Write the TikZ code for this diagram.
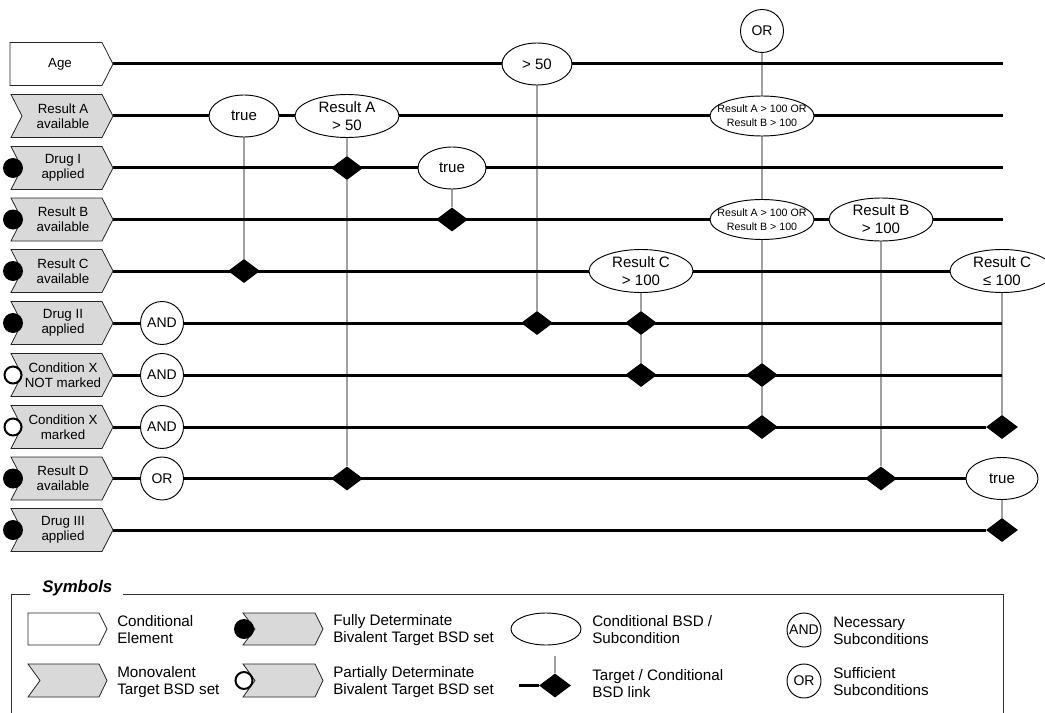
\documentclass[tikz,border=0pt]{standalone}
\usepackage{fontspec}
\setmainfont{Liberation Sans}
\usetikzlibrary{shapes.geometric}
\pgfdeclarelayer{bg}\pgfdeclarelayer{mid}\pgfsetlayers{bg,mid,main}
\definecolor{boxgray}{HTML}{D9D9D9}
\definecolor{linkgray}{HTML}{A0A0A0}
\tikzset{
 rowline/.style={line width=2.25pt},
 linkline/.style={draw=linkgray, line width=1.5pt},
 boxline/.style={draw=black!85, line width=0.6pt},
 boxtext/.style={font=\fontsize{10}{11.25}\selectfont, align=center, inner sep=0pt},
 cond/.style={ellipse, draw, fill=white, inner sep=0pt, line width=0.7pt},
 etext/.style={font=\fontsize{11.3}{13.5}\selectfont, align=center, inner sep=0pt},
 esmall/.style={font=\fontsize{8}{10.5}\selectfont, align=center, inner sep=0pt},
 gate/.style={circle, draw, fill=white, inner sep=0pt, minimum size=32.25pt, line width=0.7pt, font=\fontsize{10.5}{12}\selectfont},
 lgate/.style={circle, draw, fill=white, inner sep=0pt, minimum size=25.5pt, line width=0.7pt, font=\fontsize{10.5}{12}\selectfont},
 link/.style={diamond, fill=black, inner sep=0pt, minimum width=24pt, minimum height=18pt},
 fulldot/.style={circle, fill=black, inner sep=0pt, minimum size=15pt},
 opendot/.style={circle, draw, line width=1.5pt, fill=white, inner sep=0pt, minimum size=12.75pt},
 ltext/.style={font=\fontsize{11.4}{12.75}\selectfont, align=left, inner sep=0pt, anchor=west},
 frameline/.style={draw=black!80, line width=0.75pt},
}
\newcommand\mkwbox[3]{%
 \filldraw[boxline, fill=white] (10,#2-21.5) -- (102,#2-21.5) -- (113,#2) -- (102,#2+21.5) -- (10,#2+21.5) -- cycle;
 \node[boxtext] (#1) at (60,#2) {#3};
 \coordinate (#1tip) at (113,#2);}
\newcommand\mkgbox[3]{%
 \filldraw[boxline, fill=boxgray] (11,#2-21.5) -- (102,#2-21.5) -- (113,#2) -- (102,#2+21.5) -- (11,#2+21.5) -- (22,#2) -- cycle;
 \node[boxtext] (#1) at (63,#2) {#3};
 \coordinate (#1tip) at (113,#2);}
\begin{document}
\begin{tikzpicture}[x=0.75pt,y=-0.75pt]
\useasboundingbox (0,0) rectangle (1045,713);

% ---- row elements ----
\mkwbox{Age}{64}{Age}
\mkgbox{RA}{116}{Result A\\available}
\mkgbox{DI}{168}{Drug I\\applied}
\mkgbox{RB}{219.5}{Result B\\available}
\mkgbox{RC}{271}{Result C\\available}
\mkgbox{DII}{323}{Drug II\\applied}
\mkgbox{CXN}{375}{Condition X\\NOT marked}
\mkgbox{CXM}{427}{Condition X\\marked}
\mkgbox{RD}{478.5}{Result D\\available}
\mkgbox{DIII}{530}{Drug III\\applied}

\node[fulldot] (DIdot) at (13,168) {};
\node[fulldot] (RBdot) at (13,219.5) {};
\node[fulldot] (RCdot) at (13,271) {};
\node[fulldot] (DIIdot) at (13,323) {};
\node[opendot] (CXNdot) at (13,375) {};
\node[opendot] (CXMdot) at (13,427) {};
\node[fulldot] (RDdot) at (13,478.5) {};
\node[fulldot] (DIIIdot) at (13,530) {};

% ---- gates ----
\node[gate] (gDII) at (162,323) {AND};
\node[gate] (gCXN) at (162,375) {AND};
\node[gate] (gCXM) at (162,427) {AND};
\node[gate] (gRD) at (162,478.5) {OR};
\node[gate] (gTop) at (762,31) {OR};

% ---- conditional ellipses ----
\node[cond, minimum width=52.5pt, minimum height=31.5pt, label={[etext]center:true}] (eT1) at (244,116) {};
\node[cond, minimum width=78pt, minimum height=32.25pt, label={[etext]center:{Result A\\> 50}}] (eRA50) at (347,116) {};
\node[cond, minimum width=51pt, minimum height=31.5pt, label={[etext]center:true}] (eT2) at (452,168) {};
\node[cond, minimum width=52.5pt, minimum height=31.5pt, label={[etext]center:{> 50}}] (e50) at (537,64) {};
\node[cond, minimum width=78pt, minimum height=30pt, label={[esmall]center:{Result A > 100 OR\\Result B > 100}}] (eAB1) at (762,116) {};
\node[cond, minimum width=78pt, minimum height=30pt, label={[esmall]center:{Result A > 100 OR\\Result B > 100}}] (eAB2) at (762,219.5) {};
\node[cond, minimum width=78pt, minimum height=32.25pt, label={[etext]center:{Result C\\> 100}}] (eRC100) at (641,271) {};
\node[cond, minimum width=78pt, minimum height=32.25pt, label={[etext]center:{Result B\\> 100}}] (eRB100) at (881,219.5) {};
\node[cond, minimum width=78pt, minimum height=32.25pt, label={[etext]center:{Result C\\≤ 100}}] (eRCle) at (1002,271) {};
\node[cond, minimum width=54pt, minimum height=31.5pt, label={[etext]center:true}] (eTD) at (1002,478.5) {};

% ---- links ----
\node[link] (dRC1) at (244,271) {};
\node[link] (dDI1) at (347,168) {};
\node[link] (dRD1) at (347,478.5) {};
\node[link] (dRB1) at (452,219.5) {};
\node[link] (dDII1) at (537,323) {};
\node[link] (dDII2) at (641,323) {};
\node[link] (dCXN1) at (641,375) {};
\node[link] (dCXN2) at (762,375) {};
\node[link] (dCXM1) at (762,427) {};
\node[link] (dRD2) at (881,478.5) {};
\node[link] (dCXM2) at (1002,427) {};
\node[link] (dDIII) at (1002,530) {};

\coordinate (AgeEnd) at (1003,64);
\coordinate (RAEnd) at (1003,116);
\coordinate (DIEnd) at (1003,168);
\coordinate (RBEnd) at (1003,219.5);
\coordinate (DIIEnd) at (1002,323);
\coordinate (CXNEnd) at (1002,375);

\begin{pgfonlayer}{mid}
\draw[rowline] (Agetip) -- (AgeEnd);
\draw[rowline] (RAtip) -- (RAEnd);
\draw[rowline] (DItip) -- (DIEnd);
\draw[rowline] (RBtip) -- (RBEnd);
\draw[rowline] (RCtip) -- (eRCle);
\draw[rowline] (DIItip) -- (DIIEnd);
\draw[rowline] (CXNtip) -- (CXNEnd);
\draw[rowline] (CXMtip) -- (dCXM2);
\draw[rowline] (RDtip) -- (eTD);
\draw[rowline] (DIIItip) -- (dDIII);
\end{pgfonlayer}

\begin{pgfonlayer}{bg}
\draw[linkline] (eT1) -- (dRC1);
\draw[linkline] (eRA50) -- (dDI1) -- (dRD1);
\draw[linkline] (eT2) -- (dRB1);
\draw[linkline] (e50) -- (dDII1);
\draw[linkline] (gTop) -- (eAB1) -- (eAB2) -- (dCXN2) -- (dCXM1);
\draw[linkline] (eRC100) -- (dDII2) -- (dCXN1);
\draw[linkline] (eRB100) -- (dRD2);
\draw[linkline] (eRCle) -- (dCXM2);
\draw[linkline] (eTD) -- (dDIII);
\end{pgfonlayer}

% ---- legend ----
\draw[frameline] (30,594) -- (11,594) -- (11,720);
\draw[frameline] (123,594) -- (1003,594) -- (1003,720);
\node[anchor=base west, inner sep=0pt, font=\fontsize{12.6}{14}\selectfont\bfseries\itshape] (symT) at (42,592) {Symbols};

\filldraw[boxline, fill=white] (28,613) -- (99,613) -- (107,629) -- (99,645) -- (28,645) -- cycle;
\node[ltext] (l1) at (117,630) {Conditional\\Element};
\filldraw[boxline, fill=boxgray] (28,664) -- (99,664) -- (107,680.5) -- (99,697) -- (28,697) -- (40,680.5) -- cycle;
\node[ltext] (l2) at (117,682) {Monovalent\\Target BSD set};

\filldraw[boxline, fill=boxgray] (243,613) -- (315,613) -- (323,629) -- (315,645) -- (243,645) -- (255,629) -- cycle;
\node[fulldot] (l3dot) at (244,629) {};
\node[ltext] (l3) at (333,630) {Fully Determinate\\Bivalent Target BSD set};
\filldraw[boxline, fill=boxgray] (243,664) -- (315,664) -- (323,680.5) -- (315,697) -- (243,697) -- (255,680.5) -- cycle;
\node[opendot] (l4dot) at (244,680.5) {};
\node[ltext] (l4) at (333,682) {Partially Determinate\\Bivalent Target BSD set};

\node[cond, minimum width=52.5pt, minimum height=24pt] (l5e) at (546,629) {};
\node[ltext] (l5) at (592,630) {Conditional BSD /\\Subcondition};
\node[link] (l6d) at (555,685.5) {};
\coordinate (l6top) at (555,656);
\coordinate (l6left) at (519,685.5);
\begin{pgfonlayer}{bg}
\draw[linkline] (l6top) -- (l6d);
\end{pgfonlayer}
\begin{pgfonlayer}{mid}
\draw[rowline] (l6left) -- (l6d);
\end{pgfonlayer}
\node[ltext] (l6) at (592,684) {Target / Conditional\\BSD link};

\node[lgate] (l7g) at (804,630) {AND};
\node[ltext] (l7) at (833,631) {Necessary\\Subconditions};
\node[lgate] (l8g) at (804,681) {OR};
\node[ltext] (l8) at (833,682) {Sufficient\\Subconditions};
\end{tikzpicture}
\end{document}
